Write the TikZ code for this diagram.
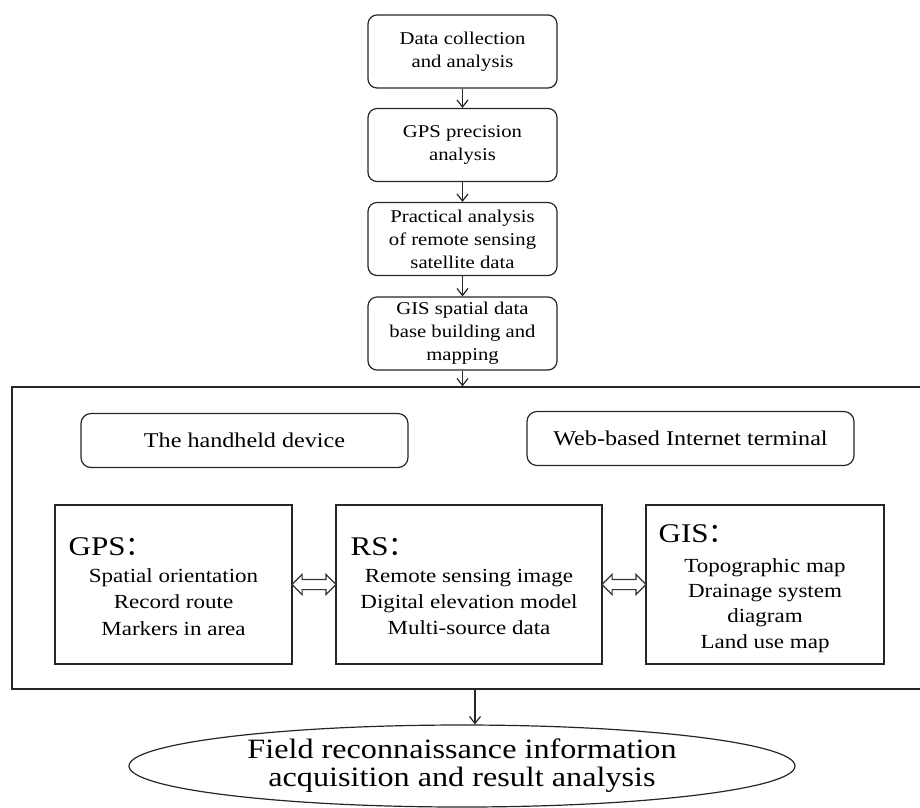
\documentclass[tikz,border=0pt]{standalone}
\usepackage{fontspec}
\setmainfont{Liberation Serif}[FakeStretch=1.15]
\newfontfamily\cjk{Noto Sans CJK SC}
\usetikzlibrary{arrows.meta,shapes.geometric,shapes.arrows,calc}

\tikzset{
  stepbox/.style={draw=black!85, rounded corners=9pt, minimum width=189pt, minimum height=73pt,
    align=center, inner sep=2pt, font=\fontsize{18}{23}\selectfont},
  termbox/.style={draw=black!85, rounded corners=10pt, minimum width=327pt, minimum height=54pt,
    inner sep=2pt, font=\fontsize{21}{24}\selectfont},
  toolbox/.style={draw=black!85, minimum height=159pt, inner sep=0pt},
  toolhead/.style={anchor=base west, inner sep=0pt, font=\fontsize{27}{30}\selectfont},
  toolbody/.style={align=center, inner sep=0pt},
  link/.style={double arrow, draw=black!80, double arrow head extend=5pt, inner sep=4.5pt,
    minimum height=44pt},
  arr/.style={draw=black!85, -{Straight Barb[length=7pt,width=11pt]}}
}

\begin{document}
\begin{tikzpicture}[x=1pt,y=-1pt,every path/.style={line width=1.2pt}]
\useasboundingbox (0,0) rectangle (920,807);

% steps
\node[stepbox] (collect) at (462.5,51.5) {Data collection\\and analysis};
\node[stepbox] (precise) at (462.5,145) {GPS precision\\analysis};
\node[stepbox] (remote)  at (462.5,239) {Practical analysis\\of remote sensing\\satellite data};
\node[stepbox] (base)    at (462.5,333.5) {GIS spatial data\\base building and\\mapping};

\draw[arr] (collect) -- (precise);
\draw[arr] (precise) -- (remote);
\draw[arr] (remote) -- (base);

% platform
\node[draw=black!85, minimum width=910pt, minimum height=302pt, inner sep=0pt] (frame) at (467,538) {};
\draw[arr] (base) -- (frame.north -| base);

\node[termbox] (hand) at (244.5,440.5) {The handheld device};
\node[termbox] (web)  at (690.5,438.5) {Web-based Internet terminal};

\node[toolbox, minimum width=237pt] (gps) at (173.5,584.5) {};
\node[toolbox, minimum width=266pt] (rs)  at (469,584.5) {};
\node[toolbox, minimum width=238pt] (gis) at (765,584.5) {};

\node[toolhead] (gpshead) at (68,555) {GPS{\cjk ：}};
\node[toolhead] (rshead)  at (350,555) {RS{\cjk ：}};
\node[toolhead] (gishead) at (658,542) {GIS{\cjk ：}};

\node[toolbody, font=\fontsize{20}{26.5}\selectfont] at (173.5,601.7)
  {Spatial orientation\\Record route\\Markers in area};
\node[toolbody, font=\fontsize{20}{26}\selectfont] at (469,602.2)
  {Remote sensing image\\Digital elevation model\\Multi-source data};
\node[toolbody, font=\fontsize{20}{25.3}\selectfont] at (765,605.3)
  {Topographic map\\Drainage system\\diagram\\Land use map};

\node[link] (gpsrs) at ($(gps.east)!.5!(rs.west)$) {};
\node[link] (rsgis) at ($(rs.east)!.5!(gis.west)$) {};

% result
\node[draw=black!85, ellipse, minimum width=666pt, minimum height=82pt, inner sep=0pt,
  align=center, font=\fontsize{28}{28}\selectfont] (field) at (462,766)
  {Field reconnaissance information\\acquisition and result analysis};
\draw[arr] ([xshift=8pt]frame.south) -- ([xshift=8pt]frame.south |- field.north);
\end{tikzpicture}
\end{document}
